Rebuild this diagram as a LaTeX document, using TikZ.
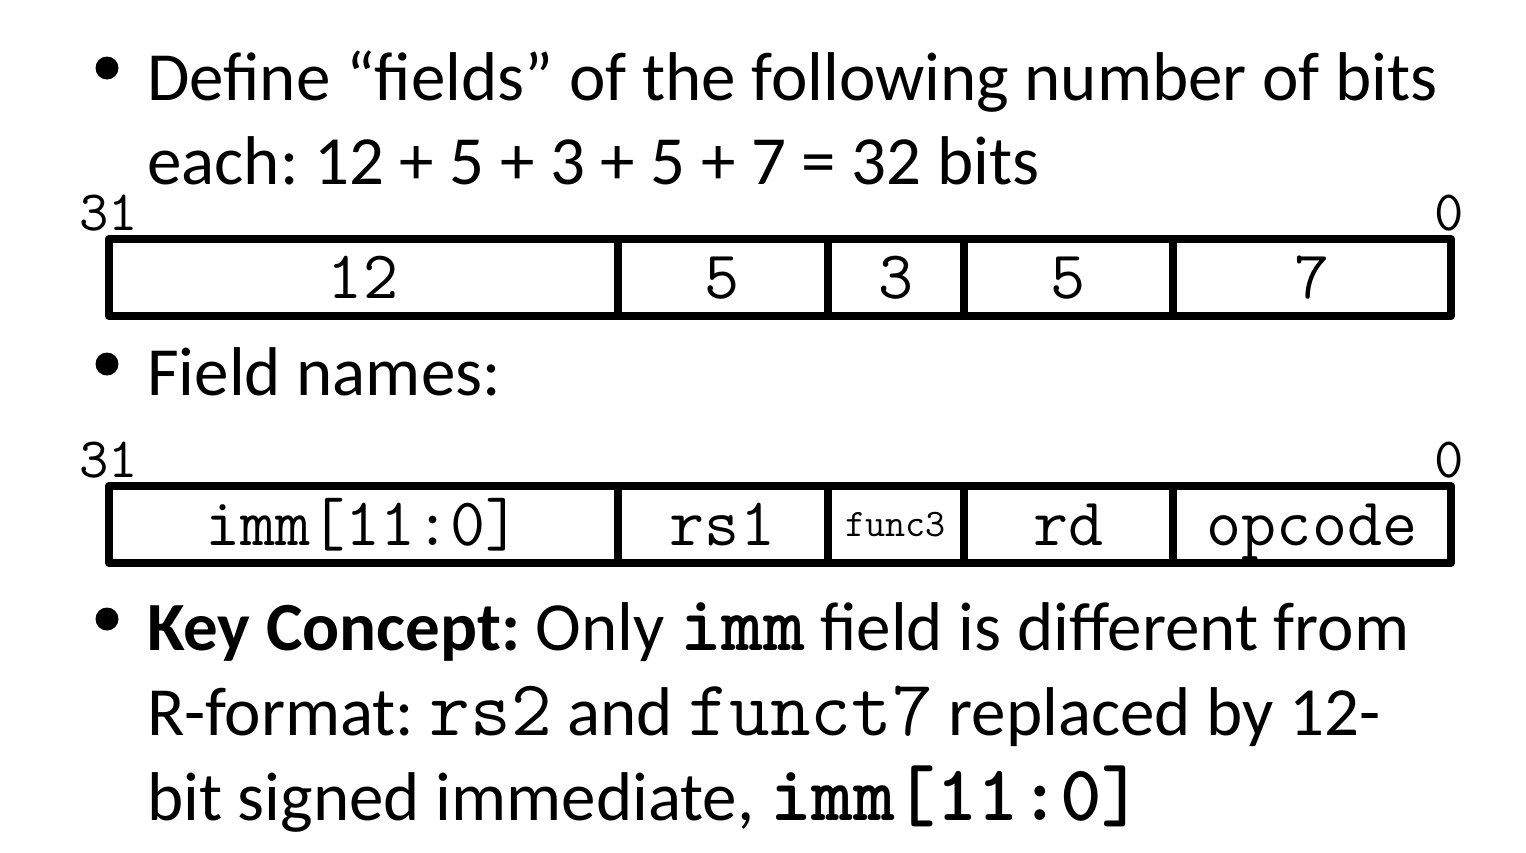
\documentclass[tikz,border=0pt]{standalone}
\usepackage{fontspec}
\setmainfont{Carlito}
\usetikzlibrary{positioning}

\tikzset{
  field/.style={draw, line width=8pt, line join=round, minimum height=77pt,
    inner sep=0pt, outer sep=0pt, text height=41.5pt, text depth=0pt,
    font=\ttfamily\fontsize{68}{68}\selectfont},
  bitno/.style={inner sep=0pt, font=\ttfamily\fontsize{57}{57}\selectfont},
  line/.style={anchor=base west, inner sep=0pt, font=\fontsize{69}{80}\selectfont},
  dot/.style={circle, fill, inner sep=0pt, minimum size=23pt}
}
\newcommand{\code}[1]{{\ttfamily\fontsize{79}{80}\selectfont #1}}
\frenchspacing

\begin{document}
\begin{tikzpicture}[x=1pt,y=-1pt]
  \useasboundingbox (0,0) rectangle (1526,852);
  % first bullet
  \node[line] (defA) at (147,100) {Define “fields” of the following number of bits};
  \node[line] (defB) at (147,184) {each: 12 + 5 + 3 + 5 + 7 = 32 bits};
  \node[dot] (dotA) at (107,68) {};
  % bit widths
  \node[field, minimum width=509pt, anchor=west] (wA) at (108.5,277.75) {12};
  \node[field, minimum width=210pt] (wB) [right=0pt of wA] {5};
  \node[field, minimum width=136pt] (wC) [right=0pt of wB] {3};
  \node[field, minimum width=209.5pt] (wD) [right=0pt of wC] {5};
  \node[field, minimum width=278pt] (wE) [right=0pt of wD] {7};
  \node[bitno, anchor=base west] (hiA) at (79,230) {31};
  \node[bitno, anchor=base east] (loA) at (1464,230) {0};
  % second bullet
  \node[line] (names) at (147,395) {Field names:};
  \node[dot] (dotB) at (107,364) {};
  % field names
  \node[field, minimum width=509pt, anchor=west] (imm) at (108.5,524.5) {imm[11:0]};
  \node[field, minimum width=210pt] (rsone) [right=0pt of imm] {rs1};
  \node[field, minimum width=136pt, text height=23pt, font=\ttfamily\fontsize{39}{39}\selectfont]
    (functhree) [right=0pt of rsone] {func3};
  \node[field, minimum width=209.5pt] (rd) [right=0pt of functhree] {rd};
  \node[field, minimum width=278pt] (opcode) [right=0pt of rd] {opcode};
  \node[bitno, anchor=base west] (hiB) at (79,477) {31};
  \node[bitno, anchor=base east] (loB) at (1464,477) {0};
  % third bullet
  \node[line] (keyA) at (147,650) {\textbf{Key Concept:} Only \code{\textbf{imm}} field is different from};
  \node[line] (keyB) at (147,735) {R-format: \code{rs2} and \code{funct7} replaced by 12-};
  \node[line] (keyC) at (147,820) {bit signed immediate, \code{\textbf{imm[11:0]}}};
  \node[dot] (dotC) at (107,619) {};
\end{tikzpicture}
\end{document}
